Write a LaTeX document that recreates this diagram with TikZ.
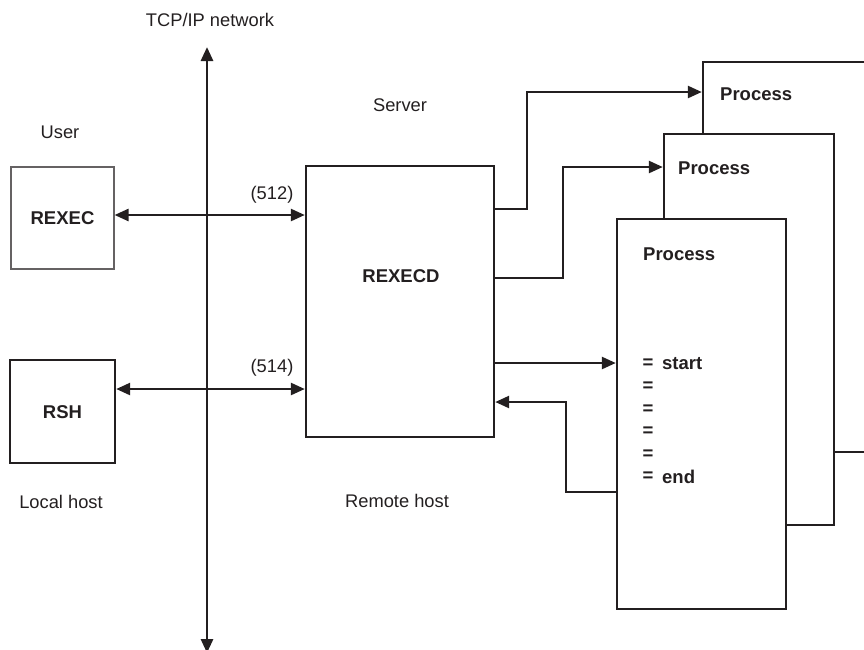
\documentclass[tikz,border=0pt]{standalone}
\usepackage{fontspec}
\setmainfont{Liberation Sans}
\usetikzlibrary{arrows.meta}
\definecolor{ink}{HTML}{231F20}
\tikzset{
  x=1pt, y=-1pt,
  txt/.style={inner sep=0pt, text=ink, font=\fontsize{18.3}{21}\selectfont},
  btxt/.style={inner sep=0pt, text=ink, font=\fontsize{18.5}{21}\selectfont\bfseries},
  boxline/.style={draw=ink, line width=2.4pt, fill=white, inner sep=0pt},
  tip/.tip={Triangle[length=14pt,width=12pt]},
  arr/.style={draw=ink, line width=2.5pt, -tip},
  biarr/.style={draw=ink, line width=2.5pt, tip-tip},
}
\begin{document}
\begin{tikzpicture}
\useasboundingbox (0,0) rectangle (864,649);
\clip (0,0) rectangle (864,649);

% network line
\coordinate (netTop) at (207,47);
\coordinate (netBot) at (207,653);
\draw[biarr, line width=2.8pt] (netBot) -- (netTop);
\node[txt] (tcpip) at (210,20) {TCP/IP network};

% local side
\node[txt] (user) at (60,132) {User};
\node[draw=ink!70, line width=1.1pt, inner sep=0pt, minimum width=103pt, minimum height=102pt] (rexec) at (62.5,218) {};
\node[btxt] (rexeclbl) at (62.5,218) {REXEC};
\node[boxline, minimum width=105pt, minimum height=103pt] (rsh) at (62.5,411.5) {};
\node[btxt] (rshlbl) at (62.5,412) {RSH};
\node[txt] (local) at (61,502) {Local host};

% server
\node[txt] (server) at (400,105) {Server};
\node[boxline, minimum width=188pt, minimum height=271pt] (rexecd) at (400,301.5) {};
\node[btxt] (rexecdlbl) at (401,276) {REXECD};
\node[txt] (remote) at (397,501) {Remote host};

% ports
\draw[biarr] (rexec.east |- 0,215) -- (rexecd.west |- 0,215);
\node[txt] (p512) at (272,195) {(512)};
\draw[biarr] (rsh.east |- 0,389) -- (rexecd.west |- 0,389);
\node[txt] (p514) at (272,368) {(514)};

% processes
\node[boxline, minimum width=197pt, minimum height=390pt] (p3) at (801.5,257) {};
\node[btxt, anchor=west] (p3lbl) at (720,94) {Process};
\node[boxline, minimum width=170pt, minimum height=391pt] (p2) at (749,329.5) {};
\node[btxt, anchor=west] (p2lbl) at (678,168) {Process};
\node[boxline, minimum width=169pt, minimum height=390pt] (p1) at (701.5,414) {};
\node[btxt, anchor=west] (p1lbl) at (643,254) {Process};

\foreach \yy [count=\i] in {364,386.6,409.2,431.8,454.4,477}{
  \node[btxt] (eq\i) at (648,\yy) {=};
}
\node[btxt, anchor=west] (startlbl) at (662,364) {start};
\node[btxt, anchor=west] (endlbl) at (662,477) {end};

% connectors
\draw[arr] (rexecd.east |- 0,209) -| (527,92) -- (p3.west |- 0,92);
\draw[arr] (rexecd.east |- 0,278) -| (563,167) -- (p2.west |- 0,167);
\draw[arr] (rexecd.east |- 0,363) -- (p1.west |- 0,363);
\draw[arr] (p1.west |- 0,492) -| (566,402) -- (rexecd.east |- 0,402);
\end{tikzpicture}
\end{document}
